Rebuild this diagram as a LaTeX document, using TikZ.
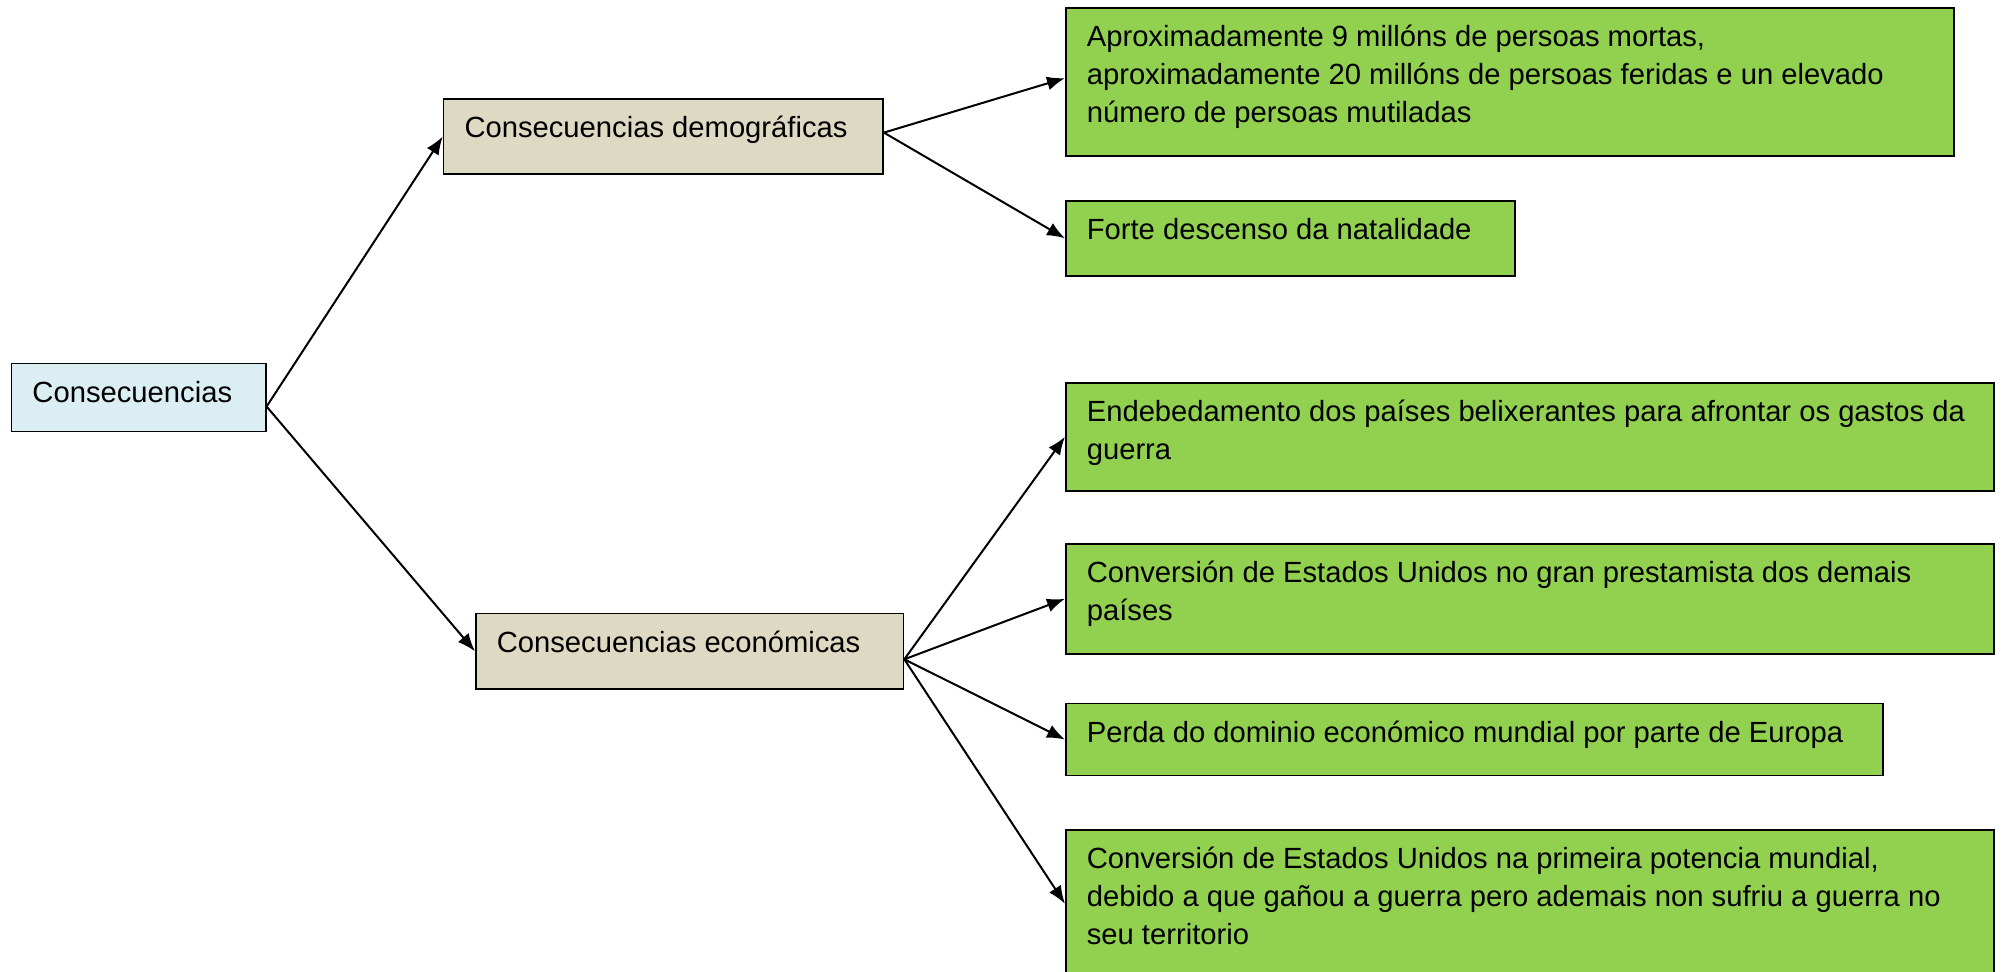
\documentclass[tikz,border=0pt]{standalone}
\usepackage{fontspec}
\setmainfont{Liberation Sans}
\usetikzlibrary{arrows.meta,calc}
\definecolor{rootblue}{HTML}{DAEEF3}
\definecolor{tanbox}{HTML}{DDD9C3}
\definecolor{greenbox}{HTML}{92D050}
\newcommand{\bxt}[2]{\makebox[#1][l]{\begin{tabular}[t]{@{}l@{}}#2\end{tabular}}}
\tikzset{
  cbox/.style={draw=black, line width=0.8pt, inner xsep=10.5pt, inner ysep=0pt,
    text height=19.25pt, anchor=north west,
    font=\fontsize{14.6pt}{19pt}\selectfont},
  rootbox/.style={cbox, fill=rootblue},
  midbox/.style={cbox, fill=tanbox},
  leafbox/.style={cbox, fill=greenbox},
  arr/.style={line width=1pt, -{Latex[length=9pt,width=7pt]}}
}
\begin{document}
\begin{tikzpicture}[x=0.5pt,y=-0.5pt]
\useasboundingbox (0,0) rectangle (2006,971);
\clip (0,0) rectangle (2006,971);
\node[rootbox, text depth=14.75pt] (root) at (10.7,362.7) {\bxt{106.15pt}{Consecuencias}};
\node[midbox, text depth=18.25pt] (demo) at (442.7,98.3) {\bxt{198.8pt}{Consecuencias demográficas}};
\node[midbox, text depth=18.55pt] (econ) at (475,612.7) {\bxt{192.85pt}{Consecuencias económicas}};
\node[leafbox, text depth=54.75pt] (g1) at (1065,7.3) {\bxt{423pt}{Aproximadamente 9 millóns de persoas mortas,\\aproximadamente 20 millóns de persoas feridas e un elevado\\número de persoas mutiladas}};
\node[leafbox, text depth=18.25pt] (g2) at (1065,200) {\bxt{203.5pt}{Forte descenso da natalidade}};
\node[leafbox, text depth=34.75pt] (g3) at (1065,382) {\bxt{443pt}{Endebedamento dos países belixerantes para afrontar os gastos da\\guerra}};
\node[leafbox, text depth=35.75pt] (g4) at (1065,543) {\bxt{443pt}{Conversión de Estados Unidos no gran prestamista dos demais\\países}};
\node[leafbox, text depth=16.75pt] (g5) at (1065,702.7) {\bxt{387.5pt}{Perda do dominio económico mundial por parte de Europa}};
\node[leafbox, text depth=54.75pt] (g6) at (1065,829) {\bxt{443pt}{Conversión de Estados Unidos na primeira potencia mundial,\\debido a que gañou a guerra pero ademais non sufriu a guerra no\\seu territorio}};
\coordinate (rs) at ($(root.east)+(0,9)$);
\coordinate (ds) at ($(demo.east)+(0,-4)$);
\coordinate (es) at ($(econ.east)+(0,8)$);
\draw[arr] (rs) -- (demo.west);
\draw[arr] (rs) -- (econ.west);
\draw[arr] (ds) -- ($(g1.west)+(0,-4)$);
\draw[arr] (ds) -- (g2.west);
\draw[arr] (es) -- (g3.west);
\draw[arr] (es) -- (g4.west);
\draw[arr] (es) -- (g5.west);
\draw[arr] (es) -- (g6.west);
\end{tikzpicture}
\end{document}
